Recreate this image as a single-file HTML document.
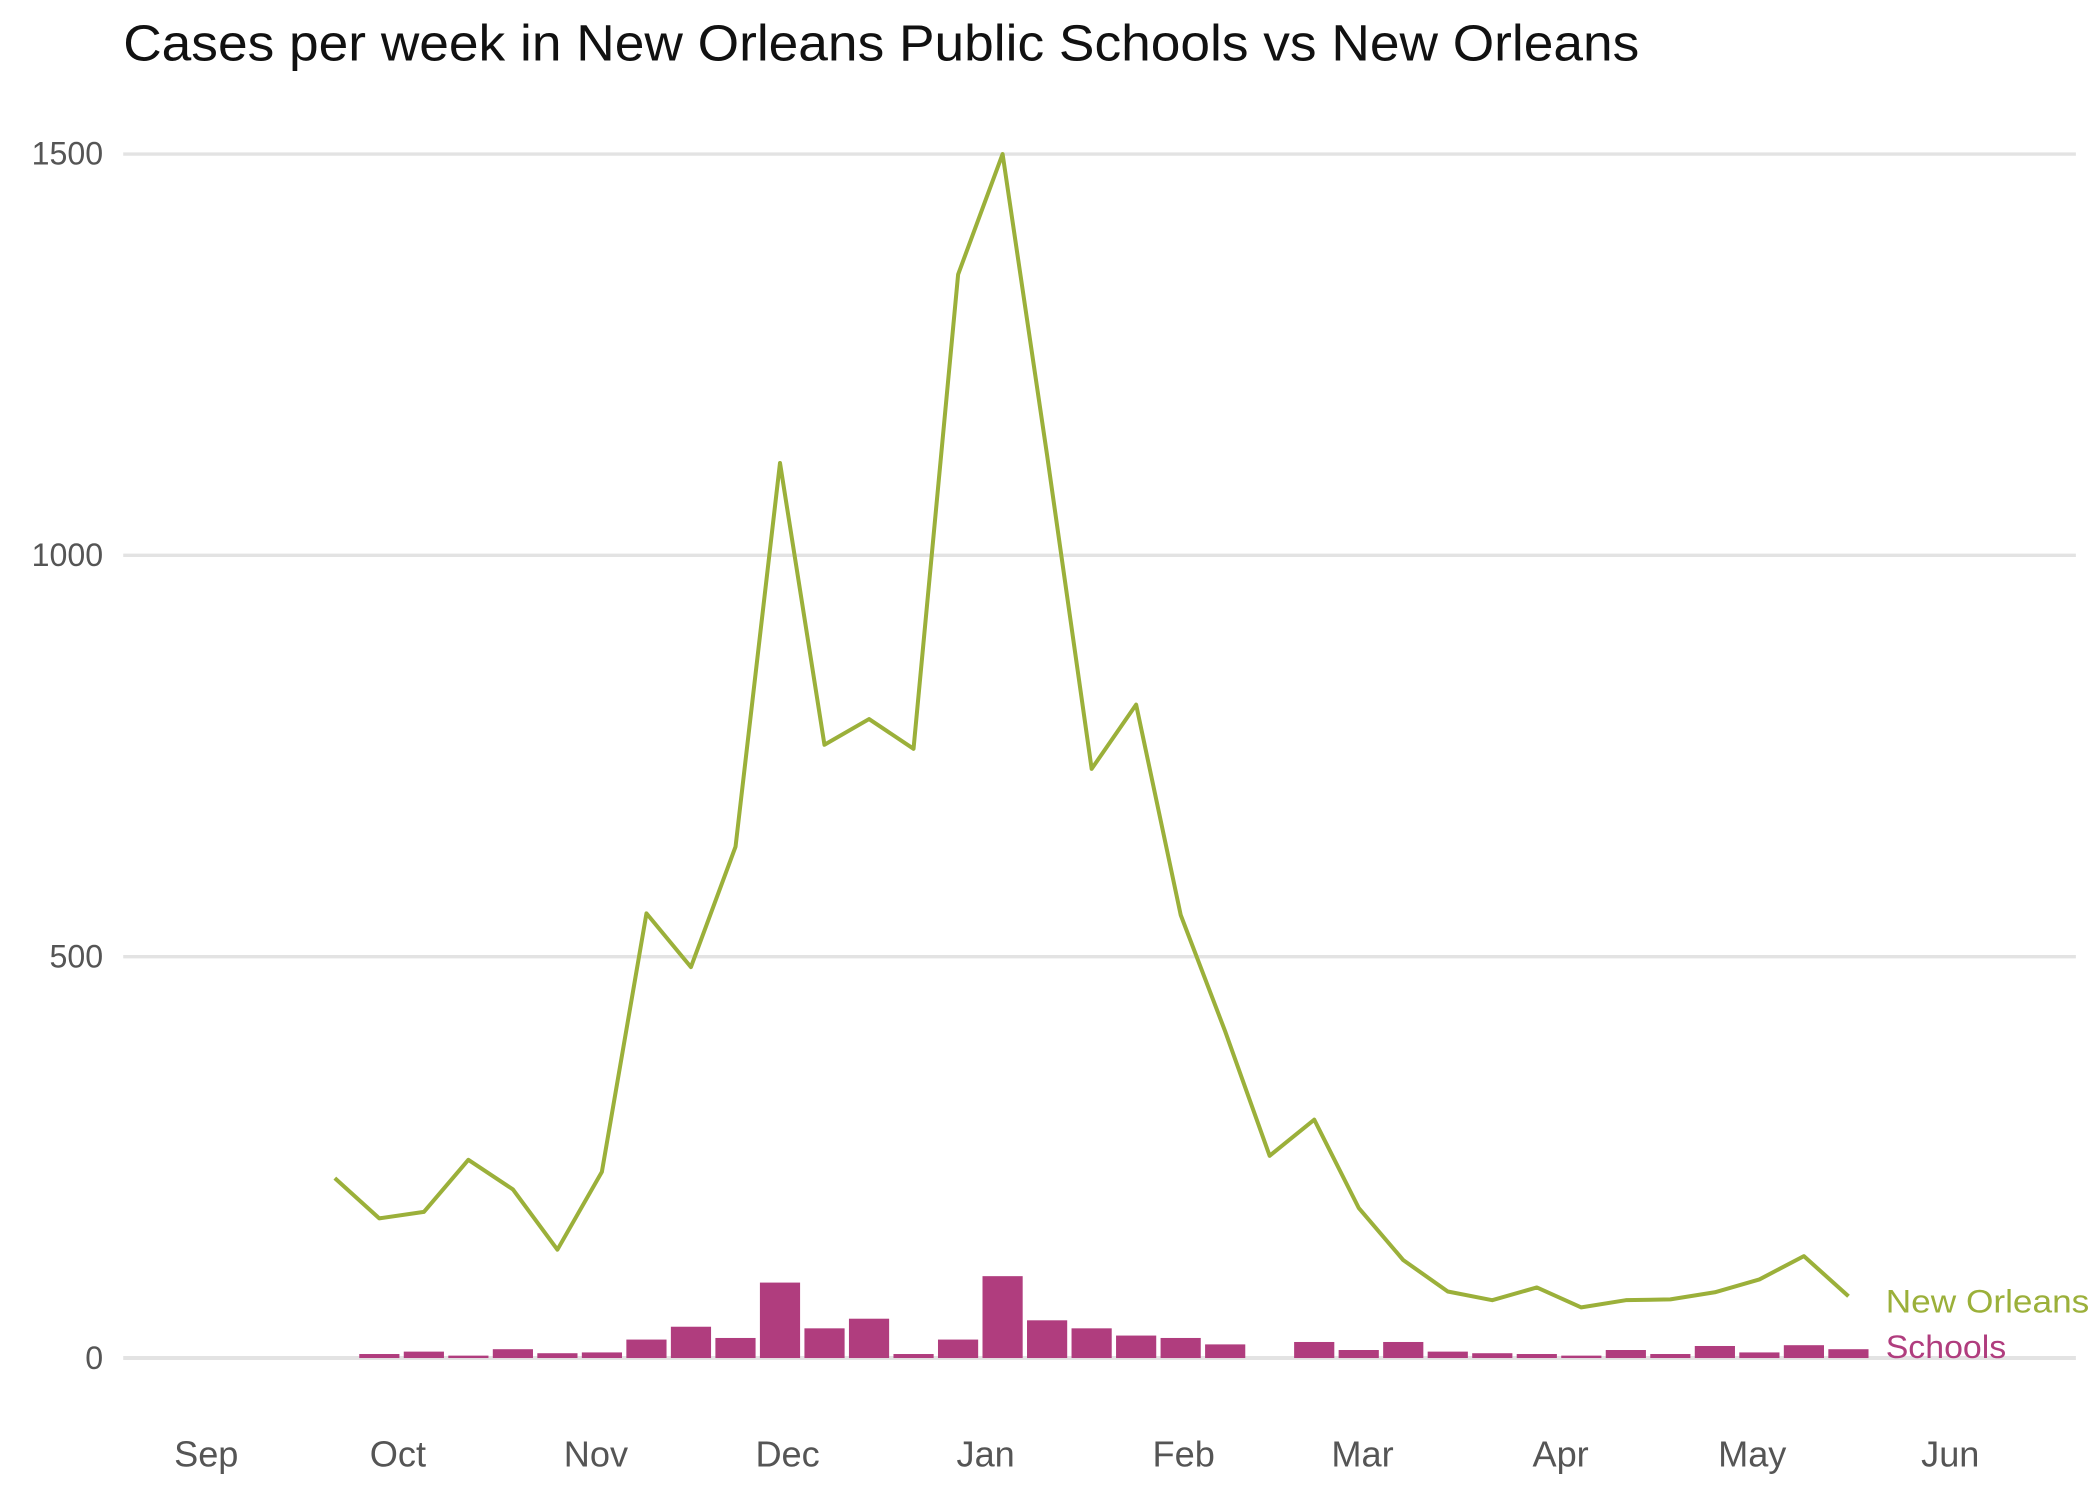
<!DOCTYPE html>
<html><head><meta charset="utf-8"><style>
html,body{margin:0;padding:0;background:#fff;}
svg{display:block;font-family:"Liberation Sans",sans-serif;}
</style></head><body>
<svg id="chart" width="2100" height="1500" viewBox="0 0 1568 1120" xmlns="http://www.w3.org/2000/svg">
<text x="92" y="45" font-size="38" fill="#111" textLength="1132" lengthAdjust="spacingAndGlyphs">Cases per week in New Orleans Public Schools vs New Orleans</text>
<g id="grid"></g><g id="bars"></g><g id="line"></g><g id="xaxis"></g>
<text x="1408" y="980" font-size="24" fill="#9bb03a" textLength="152" lengthAdjust="spacingAndGlyphs">New Orleans</text>
<text x="1408" y="1014" font-size="24" fill="#b03d7e" textLength="90" lengthAdjust="spacingAndGlyphs">Schools</text>
</svg>
<script>
const yTicks = [0, 500, 1000, 1500];
const months = ["Sep","Oct","Nov","Dec","Jan","Feb","Mar","Apr","May","Jun"];
const monthDays = [0, 30, 61, 91, 122, 153, 181, 212, 242, 273];
const cityCases = [224,174,182,247,210,135,232,554,487,637,1115,764,796,759,1350,1500,1125,734,814,552,407,252,297,187,122,83,72,88,63,72,73,82,98,127,77];
const schoolCases = [null,5,8,3,11,6,7,23,39,25,94,37,49,5,23,102,47,37,28,25,17,null,20,10,20,8,6,5,3,10,5,15,7,16,11];
const NS = "http://www.w3.org/2000/svg";
function y(v){ return 1014 - v * (899/1500); }
function xi(i){ return 250 + i * 33.24; }
function xd(d){ return 154 + d * 4.77; }
function mk(tag, attrs, parent){ const e = document.createElementNS(NS, tag); for (const k in attrs) e.setAttribute(k, attrs[k]); parent.appendChild(e); return e; }
const grid = document.getElementById('grid');
yTicks.forEach(t => {
  const l = mk('line', {x1:92, x2:1550, y1:y(t), y2:y(t), stroke:'#e3e3e3', 'stroke-width': t===0?3:2.5}, grid);
  
  
  const tx = mk('text', {x:77, y:y(t)+8, 'text-anchor':'end', 'font-size':24, fill:'#555'}, grid);
  tx.textContent = t;
  
  
});
const xa = document.getElementById('xaxis');
months.forEach((m, i) => {
  const tx = mk('text', {x:xd(monthDays[i]), y:1095, 'text-anchor':'middle', 'font-size':27, fill:'#555'}, xa);
  tx.textContent = m;
  
  
});
const bars = document.getElementById('bars');
schoolCases.forEach((v, i) => {
  if (v === null) return;
  const r = mk('rect', {x:xi(i)-15, y:y(v), width:30, height:1014-y(v), fill:'#b03d7e'}, bars);
  
  
});
const pts = cityCases.map((v, i) => xi(i).toFixed(1) + ',' + y(v).toFixed(1)).join(' ');
const pl = mk('polyline', {points:pts, fill:'none', stroke:'#9bb03a', 'stroke-width':3, 'stroke-linejoin':'round'}, document.getElementById('line'));


</script>
</body></html>
